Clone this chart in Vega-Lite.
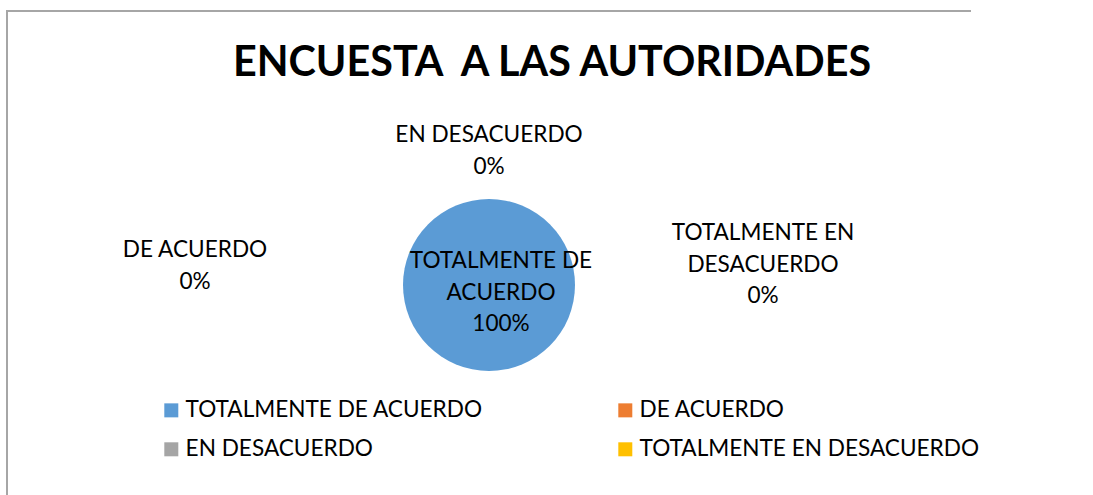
{
  "$schema": "https://vega.github.io/schema/vega-lite/v6.json",
  "width": 964,
  "height": 548,
  "autosize": {"type": "none"},
  "padding": {"left": 7, "top": 11, "right": 122, "bottom": 0},
  "background": "white",
  "view": {"stroke": "#a6a6a6", "strokeWidth": 2, "strokeDash": [964, 1512, 548]},
  "title": {
    "text": "ENCUESTA\u00a0 A LAS AUTORIDADES",
    "font": "Lato",
    "fontSize": 41.3,
    "fontWeight": "bold",
    "color": "#000000",
    "anchor": "middle",
    "frame": "group",
    "baseline": "alphabetic",
    "offset": -65,
    "dy": 41,
    "dx": 63
  },
  "data": {
    "values": [
      {"categoria": "TOTALMENTE DE ACUERDO", "valor": 100},
      {"categoria": "DE ACUERDO", "valor": 0},
      {"categoria": "EN DESACUERDO", "valor": 0},
      {"categoria": "TOTALMENTE EN DESACUERDO", "valor": 0}
    ]
  },
  "transform": [
    {"joinaggregate": [{"op": "sum", "field": "valor", "as": "total"}]},
    {"calculate": "format(datum.valor / datum.total, '.0%')", "as": "pct"},
    {"calculate": "indexof(datum.categoria, 'TOTALMENTE') === 0 ? [substring(datum.categoria, 0, 13), substring(datum.categoria, 14), datum.pct] : [datum.categoria, datum.pct]", "as": "etiqueta"}
  ],
  "layer": [
    {
      "mark": {"type": "arc", "outerRadius": 86, "strokeWidth": 0},
      "encoding": {
        "theta": {"field": "valor", "type": "quantitative", "stack": true},
        "order": {"field": "valor", "type": "quantitative", "sort": "descending"},
        "color": {
          "field": "categoria",
          "type": "nominal",
          "scale": {
            "domain": ["TOTALMENTE DE ACUERDO", "DE ACUERDO", "EN DESACUERDO", "TOTALMENTE EN DESACUERDO"],
            "range": ["#5B9BD5", "#ED7D31", "#A5A5A5", "#FFC000"]
          },
          "legend": {
            "orient": "none",
            "direction": "horizontal",
            "legendX": 153,
            "legendY": 388,
            "columns": 2,
            "title": null,
            "symbolType": "square",
            "symbolSize": 196,
            "symbolStrokeWidth": 0,
            "labelFont": "Lato",
            "labelFontSize": 22.6,
            "labelColor": "#000000",
            "labelLimit": 0,
            "labelOffset": 3,
            "columnPadding": 131,
            "rowPadding": 16
          }
        }
      }
    },
    {
      "transform": [{"filter": "datum.categoria === 'TOTALMENTE DE ACUERDO'"}],
      "mark": {"type": "text", "dx": 12, "dy": -17},
      "encoding": {"text": {"field": "etiqueta", "type": "nominal"}}
    },
    {
      "transform": [{"filter": "datum.categoria === 'DE ACUERDO'"}],
      "mark": {"type": "text", "dx": -294, "dy": -28},
      "encoding": {"text": {"field": "etiqueta", "type": "nominal"}}
    },
    {
      "transform": [{"filter": "datum.categoria === 'EN DESACUERDO'"}],
      "mark": {"type": "text", "dx": 0, "dy": -143},
      "encoding": {"text": {"field": "etiqueta", "type": "nominal"}}
    },
    {
      "transform": [{"filter": "datum.categoria === 'TOTALMENTE EN DESACUERDO'"}],
      "mark": {"type": "text", "dx": 274, "dy": -45},
      "encoding": {"text": {"field": "etiqueta", "type": "nominal"}}
    }
  ],
  "config": {
    "text": {"font": "Lato", "fontSize": 22.6, "color": "#000000", "align": "center", "baseline": "alphabetic", "lineHeight": 31.5}
  }
}
